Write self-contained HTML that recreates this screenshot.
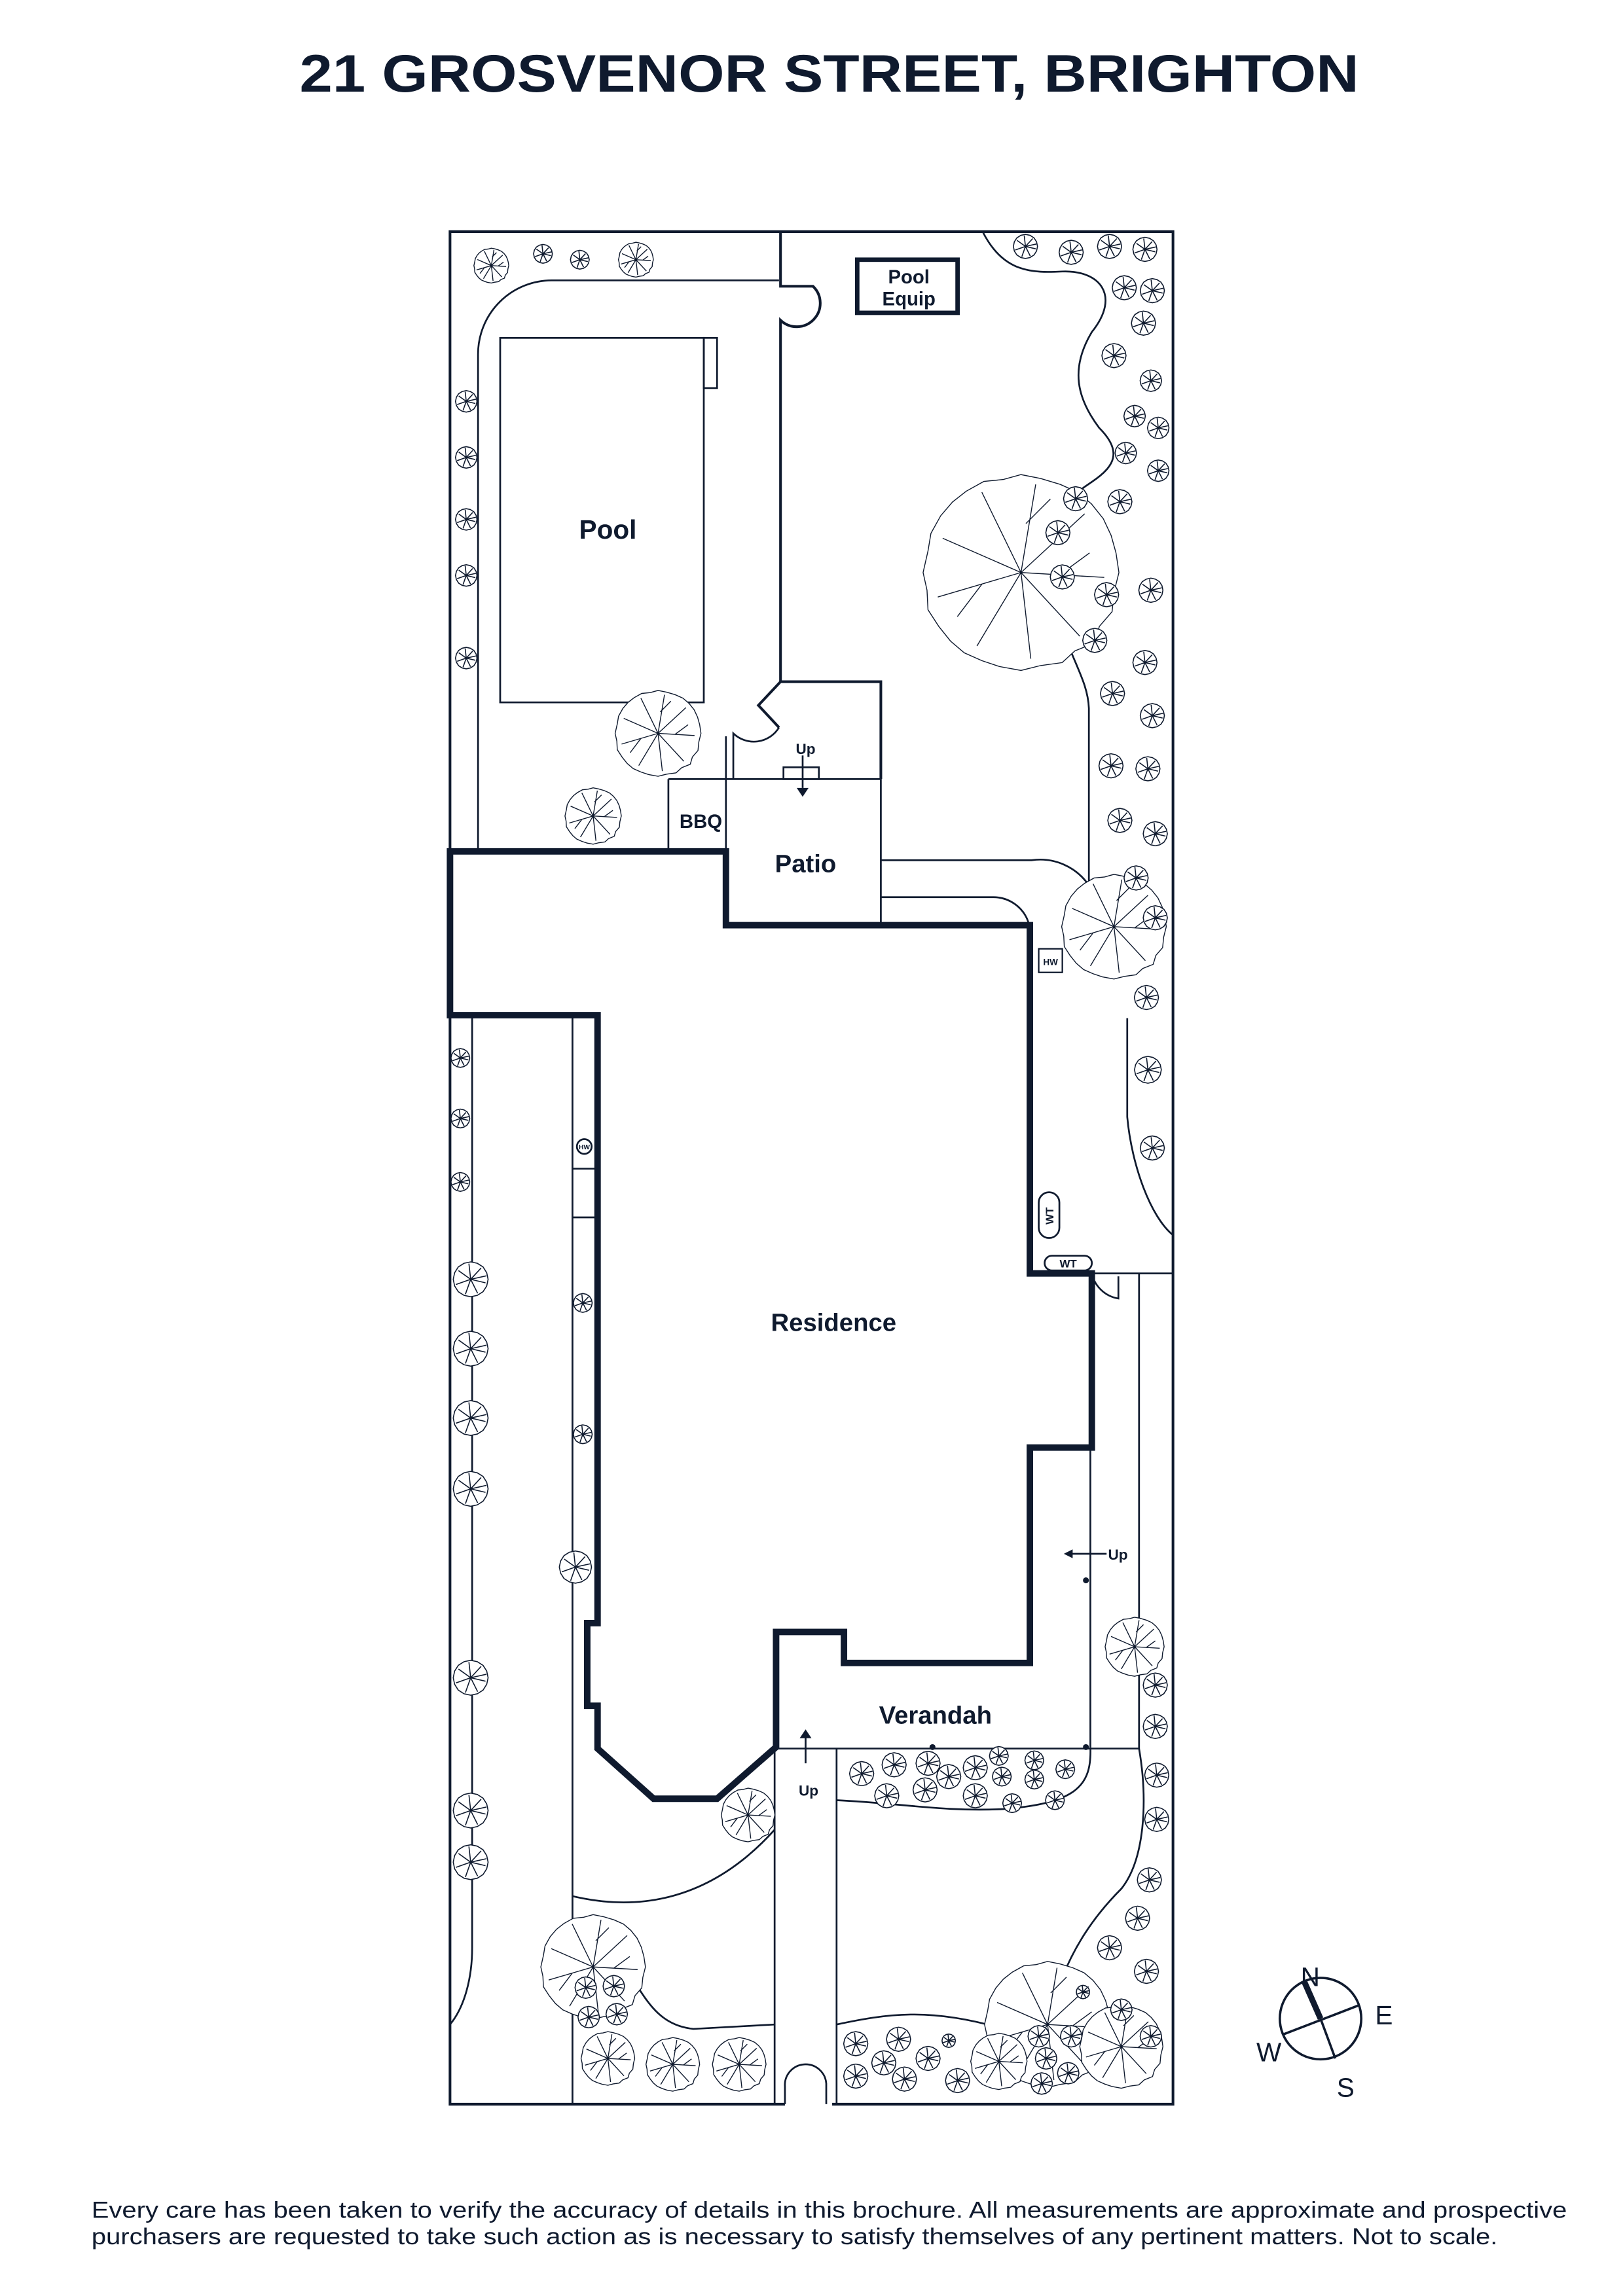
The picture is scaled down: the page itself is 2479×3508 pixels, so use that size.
<!DOCTYPE html>
<html><head><meta charset="utf-8"><style>html,body{margin:0;padding:0;background:#fff}svg{display:block}</style></head>
<body>
<svg width="2479" height="3508" viewBox="0 0 1100 1556" preserveAspectRatio="none" xmlns="http://www.w3.org/2000/svg" font-family="Liberation Sans, sans-serif">
<defs>
<symbol id="s" viewBox="-1.1 -1.1 2.2 2.2">
<path vector-effect="non-scaling-stroke" fill="#fff" stroke="#0f1a2e" stroke-width="1.6" d="M1 0L.92 .38L.71 .71L.38 .92L0 1L-.38 .92L-.71 .71L-.92 .38L-1 0L-.92 -.38L-.71 -.71L-.38 -.92L0 -1L.38 -.92L.71 -.71L.92 -.38Z M0 0L.85 .2 M0 0L.4 .8 M0 0L-.3 .85 M0 0L-.85 .3 M0 0L-.7 -.5 M0 0L-.1 -.9 M0 0L.6 -.65 M0 0L.9 -.2"/>
</symbol>
<symbol id="t" viewBox="-1.1 -1.1 2.2 2.2">
<path vector-effect="non-scaling-stroke" fill="#fff" stroke="#0f1a2e" stroke-width="1.4" d="M1 0L.95 .2L.93 .4L.8 .55L.75 .72L.55 .8L.42 .92L.2 .95L0 1L-.22 .96L-.4 .9L-.58 .82L-.72 .7L-.84 .55L-.95 .38L-.96 .18L-1 0L-.95 -.22L-.92 -.4L-.82 -.58L-.7 -.72L-.56 -.83L-.38 -.93L-.18 -.95L0 -1L.2 -.96L.4 -.9L.58 -.82L.72 -.7L.84 -.55L.92 -.38L.97 -.2Z M0 0L.85 .05 M0 0L.6 .65 M0 0L.1 .88 M0 0L-.45 .75 M0 0L-.85 .25 M0 0L-.8 -.35 M0 0L-.4 -.82 M0 0L.15 -.9 M0 0L.65 -.6 M.4 .02L.7 -.2 M-.4 .12L-.65 .45 M.05 -.5L.3 -.75"/>
</symbol>
</defs>
<g fill="#0f1a2e">
<text x="562" y="62" font-size="36" font-weight="bold" text-anchor="middle" textLength="718" lengthAdjust="spacingAndGlyphs">21 GROSVENOR STREET, BRIGHTON</text>
<text x="62" y="1503" font-size="15.5" textLength="1000" lengthAdjust="spacingAndGlyphs">Every care has been taken to verify the accuracy of details in this brochure. All measurements are approximate and prospective</text>
<text x="62" y="1521" font-size="15.5" textLength="953" lengthAdjust="spacingAndGlyphs">purchasers are requested to take such action as is necessary to satisfy themselves of any pertinent matters. Not to scale.</text>
</g>
<g fill="none" stroke="#0f1a2e" stroke-width="1.2">
<path stroke-width="1.8" d="M305 577V157H795V1426H564 M532 1426H305V688"/>
<path d="M532 1426V1414A14 14 0 0 1 560 1412V1426"/>
<path d="M324 575V240A50 50 0 0 1 374 190H528"/>
<rect x="339" y="229" width="138" height="247"/>
<rect x="477" y="229" width="9" height="34"/>
<path stroke-width="1.8" d="M529 157V194H551A12 12 0 0 1 529 217V462H597V528"/>
<path stroke-width="1.8" d="M529 462L514 478L528 493"/>
<path d="M528 493A20 20 0 0 1 497 497V528 M453 528H597 M453 528V575 M492 499V577 M597 528V627"/>
<rect x="581" y="176" width="68" height="36" stroke-width="3"/>
<path d="M666 157C680 185 700 185 720 184C745 183 760 200 740 225C725 250 730 270 745 290C765 310 750 320 735 330C715 345 710 370 713 390C718 440 737 455 738 480V597"/>
<path d="M764 690V757C767 790 780 825 795 837"/>
<path d="M597 583H699A40 40 0 0 1 738 600 M597 608H673A25 25 0 0 1 697 625"/>
<path stroke-width="4.4" stroke-linejoin="miter" d="M305 577H492V627H698V863H740V981H698V1127H572V1106H526V1184L486 1219H443L405 1185V1156H398V1100H405V688H305Z"/>
<path d="M320 688V1320C320 1340 315 1360 305 1372 M388 688V1426 M388 792H405 M388 825H405"/>
<circle cx="396" cy="777" r="5"/>
<path d="M740 863H795 M772 863V1185 M740 863A22 22 0 0 0 758 880V865 M739 981V1184"/>
<path d="M525 1185H772 M525 1185V1426 M567 1185V1426"/>
<path d="M739 1184C740 1210 730 1222 680 1226C640 1228 610 1222 567 1220"/>
<path d="M772 1185C778 1220 776 1260 760 1280C740 1300 728 1320 720 1340"/>
<path d="M388 1285C430 1295 480 1290 525 1240 M418 1327C435 1345 440 1372 470 1375L525 1372 M567 1372C600 1365 630 1360 680 1375"/>
<rect x="704" y="643" width="16" height="16" stroke-width="1"/>
<rect x="704" y="808" width="14" height="31" rx="7"/>
<rect x="708" y="851" width="32" height="10" rx="5"/>
<rect x="531" y="520" width="24" height="8"/>
<path d="M544 512V534 M546 1195V1176 M750 1053H725"/>
<circle cx="895" cy="1368" r="27.6" stroke-width="1.6"/>
<path stroke-width="1.6" d="M869 1379L921 1359 M895 1368L905 1395"/>
<path stroke-width="4" d="M884 1343L895 1368"/>
</g>
<g fill="#0f1a2e">
<path d="M540 534L548 534L544 540Z M542 1178L550 1178L546 1172Z M727 1050L727 1056L721 1053Z"/>
<circle cx="632" cy="1184" r="2"/><circle cx="736" cy="1184" r="2"/><circle cx="736" cy="1071" r="2"/>
</g>
<g>
<use href="#t" x="320" y="167" width="26" height="26"/>
<use href="#t" x="418" y="163" width="26" height="26"/>
<use href="#t" x="619" y="315" width="146" height="146"/>
<use href="#t" x="414" y="465" width="64" height="64"/>
<use href="#t" x="381" y="532" width="42" height="42"/>
<use href="#t" x="716" y="589" width="78" height="78"/>
<use href="#t" x="747" y="1094" width="44" height="44"/>
<use href="#t" x="487" y="1210" width="40" height="40"/>
<use href="#t" x="363" y="1294" width="78" height="78"/>
<use href="#t" x="392" y="1375" width="40" height="40"/>
<use href="#t" x="436" y="1379" width="40" height="40"/>
<use href="#t" x="481" y="1379" width="40" height="40"/>
<use href="#t" x="663" y="1325" width="94" height="94"/>
<use href="#t" x="729" y="1356" width="62" height="62"/>
<use href="#t" x="656" y="1376" width="42" height="42"/>
</g>
<g>
<use href="#s" x="361" y="165" width="14" height="14"/><use href="#s" x="386" y="169" width="14" height="14"/>
<use href="#s" x="308" y="264" width="16" height="16"/><use href="#s" x="308" y="302" width="16" height="16"/><use href="#s" x="308" y="344" width="16" height="16"/><use href="#s" x="308" y="382" width="16" height="16"/><use href="#s" x="308" y="438" width="16" height="16"/>
<use href="#s" x="686" y="158" width="18" height="18"/><use href="#s" x="717" y="162" width="18" height="18"/><use href="#s" x="743" y="158" width="18" height="18"/><use href="#s" x="767" y="160" width="18" height="18"/><use href="#s" x="753" y="186" width="18" height="18"/><use href="#s" x="772" y="188" width="18" height="18"/><use href="#s" x="766" y="210" width="18" height="18"/><use href="#s" x="746" y="232" width="18" height="18"/><use href="#s" x="772" y="250" width="16" height="16"/><use href="#s" x="761" y="274" width="16" height="16"/><use href="#s" x="777" y="282" width="16" height="16"/><use href="#s" x="755" y="299" width="16" height="16"/><use href="#s" x="777" y="311" width="16" height="16"/><use href="#s" x="720" y="329" width="18" height="18"/><use href="#s" x="750" y="331" width="18" height="18"/><use href="#s" x="708" y="352" width="18" height="18"/><use href="#s" x="711" y="382" width="18" height="18"/><use href="#s" x="741" y="394" width="18" height="18"/><use href="#s" x="771" y="391" width="18" height="18"/><use href="#s" x="733" y="425" width="18" height="18"/><use href="#s" x="767" y="440" width="18" height="18"/><use href="#s" x="745" y="461" width="18" height="18"/><use href="#s" x="772" y="476" width="18" height="18"/><use href="#s" x="744" y="510" width="18" height="18"/><use href="#s" x="769" y="512" width="18" height="18"/><use href="#s" x="750" y="547" width="18" height="18"/><use href="#s" x="774" y="556" width="18" height="18"/><use href="#s" x="761" y="586" width="18" height="18"/><use href="#s" x="774" y="613" width="18" height="18"/><use href="#s" x="768" y="667" width="18" height="18"/>
<use href="#s" x="305" y="710" width="14" height="14"/><use href="#s" x="305" y="751" width="14" height="14"/><use href="#s" x="305" y="794" width="14" height="14"/>
<use href="#s" x="306" y="854" width="26" height="26"/><use href="#s" x="306" y="901" width="26" height="26"/><use href="#s" x="306" y="948" width="26" height="26"/><use href="#s" x="306" y="996" width="26" height="26"/><use href="#s" x="306" y="1124" width="26" height="26"/><use href="#s" x="306" y="1214" width="26" height="26"/><use href="#s" x="306" y="1249" width="26" height="26"/>
<use href="#s" x="388" y="876" width="14" height="14"/><use href="#s" x="388" y="965" width="14" height="14"/><use href="#s" x="378" y="1050" width="24" height="24"/>
<use href="#s" x="768" y="715" width="20" height="20"/><use href="#s" x="772" y="769" width="18" height="18"/><use href="#s" x="774" y="1133" width="18" height="18"/><use href="#s" x="774" y="1161" width="18" height="18"/><use href="#s" x="775" y="1194" width="18" height="18"/><use href="#s" x="775" y="1224" width="18" height="18"/><use href="#s" x="770" y="1265" width="18" height="18"/><use href="#s" x="762" y="1291" width="18" height="18"/><use href="#s" x="743" y="1311" width="18" height="18"/><use href="#s" x="768" y="1327" width="18" height="18"/>
<use href="#s" x="575" y="1193" width="18" height="18"/><use href="#s" x="597" y="1187" width="18" height="18"/><use href="#s" x="620" y="1186" width="18" height="18"/><use href="#s" x="634" y="1195" width="18" height="18"/><use href="#s" x="652" y="1189" width="18" height="18"/><use href="#s" x="670" y="1183" width="14" height="14"/><use href="#s" x="694" y="1186" width="14" height="14"/><use href="#s" x="715" y="1192" width="14" height="14"/><use href="#s" x="592" y="1208" width="18" height="18"/><use href="#s" x="618" y="1204" width="18" height="18"/><use href="#s" x="652" y="1208" width="18" height="18"/><use href="#s" x="672" y="1197" width="14" height="14"/><use href="#s" x="694" y="1199" width="14" height="14"/><use href="#s" x="679" y="1215" width="14" height="14"/><use href="#s" x="708" y="1213" width="14" height="14"/>
<use href="#s" x="389" y="1339" width="16" height="16"/><use href="#s" x="408" y="1338" width="16" height="16"/><use href="#s" x="391" y="1359" width="16" height="16"/><use href="#s" x="410" y="1357" width="16" height="16"/>
<use href="#s" x="571" y="1376" width="18" height="18"/><use href="#s" x="571" y="1398" width="18" height="18"/><use href="#s" x="590" y="1389" width="18" height="18"/><use href="#s" x="600" y="1373" width="18" height="18"/><use href="#s" x="604" y="1400" width="18" height="18"/><use href="#s" x="620" y="1386" width="18" height="18"/><use href="#s" x="638" y="1378" width="10" height="10"/><use href="#s" x="640" y="1401" width="18" height="18"/><use href="#s" x="729" y="1345" width="10" height="10"/><use href="#s" x="752" y="1354" width="16" height="16"/><use href="#s" x="696" y="1372" width="16" height="16"/><use href="#s" x="718" y="1372" width="16" height="16"/><use href="#s" x="701" y="1387" width="16" height="16"/><use href="#s" x="716" y="1397" width="16" height="16"/><use href="#s" x="698" y="1404" width="16" height="16"/><use href="#s" x="772" y="1372" width="16" height="16"/>
</g>
<g fill="#0f1a2e" font-weight="bold" text-anchor="middle">
<text x="412" y="365" font-size="18">Pool</text>
<text x="616" y="192" font-size="13">Pool</text>
<text x="616" y="207" font-size="13">Equip</text>
<text x="546" y="511" font-size="10">Up</text>
<text x="475" y="561" font-size="13">BBQ</text>
<text x="546" y="591" font-size="17">Patio</text>
<text x="565" y="902" font-size="17">Residence</text>
<text x="634" y="1168" font-size="17">Verandah</text>
<text x="548" y="1217" font-size="10">Up</text>
<text x="751" y="1057" font-size="10" text-anchor="start">Up</text>
<text x="712" y="654" font-size="6">HW</text>
<text x="396" y="779" font-size="4.5">HW</text>
<text x="724" y="859" font-size="7.5">WT</text>
<text x="0" y="0" font-size="7.5" transform="translate(714 824) rotate(-90)">WT</text>
</g>
<g fill="#0f1a2e" font-size="18" text-anchor="middle">
<text x="888" y="1346">N</text>
<text x="938" y="1372">E</text>
<text x="860" y="1397">W</text>
<text x="912" y="1421">S</text>
</g>
</svg>
</body></html>
